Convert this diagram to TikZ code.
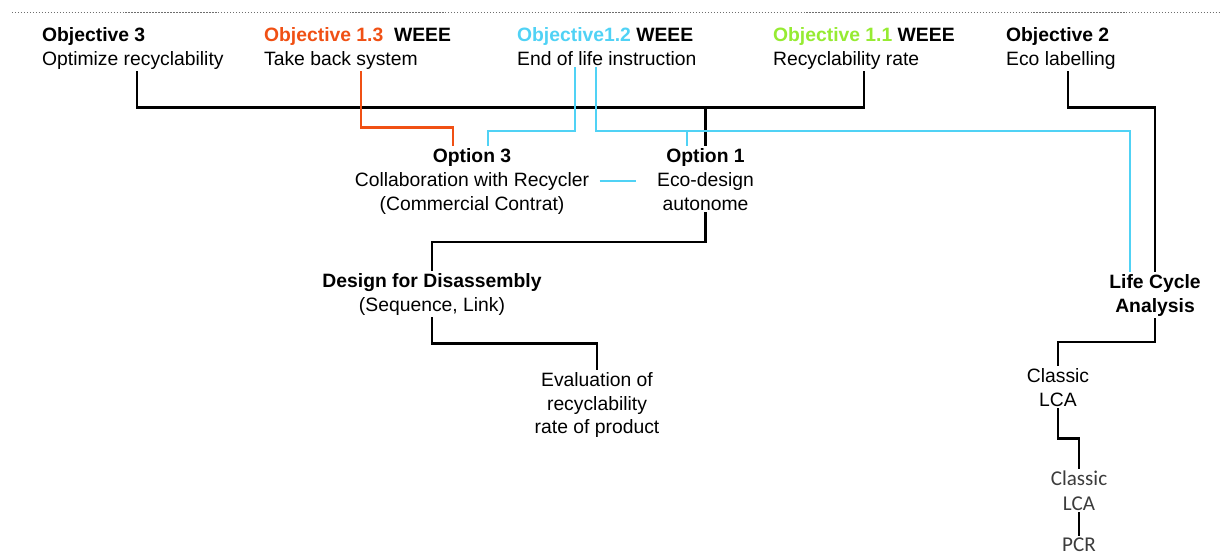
\documentclass[tikz,border=0pt]{standalone}
\usepackage{fontspec}
\setmainfont{Liberation Sans}
\newfontfamily\lcafont{Carlito}
\usetikzlibrary{
  positioning,
  calc
}
\definecolor{weeeorange}{RGB}{240,80,20}
\definecolor{weeecyan}{RGB}{80,210,245}
\definecolor{weeegreen}{RGB}{150,235,50}
\definecolor{rulegray}{RGB}{110,110,110}
\definecolor{lcagray}{RGB}{60,60,60}
\tikzset{
  goaltext/.style={
    anchor=north west, align=left, inner sep=1pt,
    font=\fontsize{11pt}{13.6pt}\selectfont
  },
  optiontext/.style={
    anchor=north, align=center, inner sep=1pt,
    font=\fontsize{11pt}{13.6pt}\selectfont
  },
  lcatext/.style={
    anchor=north, align=center, inner sep=1pt,
    font=\lcafont\fontsize{12pt}{14.2pt}\selectfont, text=lcagray
  },
  blackline/.style={
    draw=black, line width=1.4pt
  },
  orangeline/.style={
    draw=weeeorange, line width=1.2pt
  },
  cyanline/.style={
    draw=weeecyan, line width=1.2pt
  },
  toprule/.style={
    draw=rulegray, line width=0.8pt, dash pattern=on 0.8pt off 0.9pt
  },
}

\begin{document}
\begin{tikzpicture}[x=0.02cm, y=-0.02cm]
  \useasboundingbox (0,0) rectangle (1220,556);

  %% Header rule
  \draw[toprule] (12,12.3) -- (1220,12.3);

  %% Objectives
  \node[goaltext] (obj3) at (40,25)
    {\textbf{Objective 3}\\Optimize recyclability};
  \node[goaltext] (obj13) at (262,25)
    {\textbf{\textcolor{weeeorange}{Objective 1.3}\ \ WEEE}\\Take back system};
  \node[goaltext] (obj12) at (515,25)
    {\textbf{\textcolor{weeecyan}{Objective1.2} WEEE}\\End of life instruction};
  \node[goaltext] (obj11) at (771,25)
    {\textbf{\textcolor{weeegreen}{Objective 1.1} WEEE}\\Recyclability rate};
  \node[goaltext] (obj2) at (1004,25)
    {\textbf{Objective 2}\\Eco labelling};

  %% Options
  \node[optiontext] (opt3) at (472,146.25)
    {\textbf{Option 3}\\Collaboration with Recycler\\(Commercial Contrat)};
  \node[optiontext] (opt1) at (705.5,146.25)
    {\textbf{Option 1}\\Eco-design\\autonome};

  %% Methods
  \node[optiontext] (dfd) at (432,271)
    {\textbf{Design for Disassembly}\\(Sequence, Link)};
  \node[optiontext] (eval) at (597,370)
    {Evaluation of\\recyclability\\rate of product};
  \node[optiontext] (lca) at (1155,272)
    {\textbf{Life Cycle}\\\textbf{Analysis}};
  \node[optiontext] (classic) at (1058,366)
    {Classic\\LCA};
  \node[lcatext] (classic2) at (1079,468.5)
    {Classic\\LCA};
  \node[lcatext, below=0.47cm of classic2] (pcr)
    {PCR};

  %% Rows and offsets
  \coordinate (blackrow) at (0,107.5);
  \coordinate (orangerow) at (0,127.5);
  \coordinate (cyanrow) at (0,131);
  \coordinate (obj3r) at ($(obj3.south)+(4,0)$);
  \coordinate (obj13r) at ($(obj13.south)+(3,0)$);
  \coordinate (obj12l) at ($(obj12.south)+(-32,0)$);
  \coordinate (obj12r) at ($(obj12.south)+(-11,0)$);
  \coordinate (obj2r) at ($(obj2.south)+(7,0)$);
  \coordinate (opt3l) at ($(opt3.north)+(-19,0)$);
  \coordinate (opt3r) at ($(opt3.north)+(16,0)$);
  \coordinate (opt1l) at ($(opt1.north)+(-18.5,0)$);
  \coordinate (lcal) at ($(lca.north)+(-25,0)$);

  %% Black tree
  \draw[blackline] (obj3r) |- (blackrow -| obj11.south) -- (obj11.south);
  \draw[blackline] (opt1.north |- blackrow) -- (opt1.north);
  \draw[blackline] (obj2r) |- (blackrow -| lca.north) -- (lca.north);

  %% Orange link
  \draw[orangeline] (obj13r) |- (orangerow -| opt3l) -- (opt3l);

  %% Cyan links
  \draw[cyanline] (obj12l) |- (cyanrow -| opt3r) -- (opt3r);
  \draw[cyanline] (obj12r) |- (cyanrow -| lcal) -- (lcal);
  \draw[cyanline] (opt1l |- cyanrow) -- (opt1l);
  \draw[cyanline, shorten <=0.17cm, shorten >=0.385cm]
    (opt3.east) -- (opt3.east -| opt1.west);

  %% Lower steps
  \draw[blackline] (opt1.south) |- ($(opt1.south)!0.5!(dfd.north)$) -| (dfd.north);
  \draw[blackline] (dfd.south) |- ($(dfd.south)!0.5!(eval.north)$) -| (eval.north);
  \draw[blackline] (lca.south) |- ($(lca.south)!0.5!(classic.north)$) -| (classic.north);
  \draw[blackline] (classic.south) |- ($(classic.south)!0.5!(classic2.north)$) -| (classic2.north);
  \draw[blackline] (classic2.south) -- (pcr.north);

\end{tikzpicture}
\end{document}
